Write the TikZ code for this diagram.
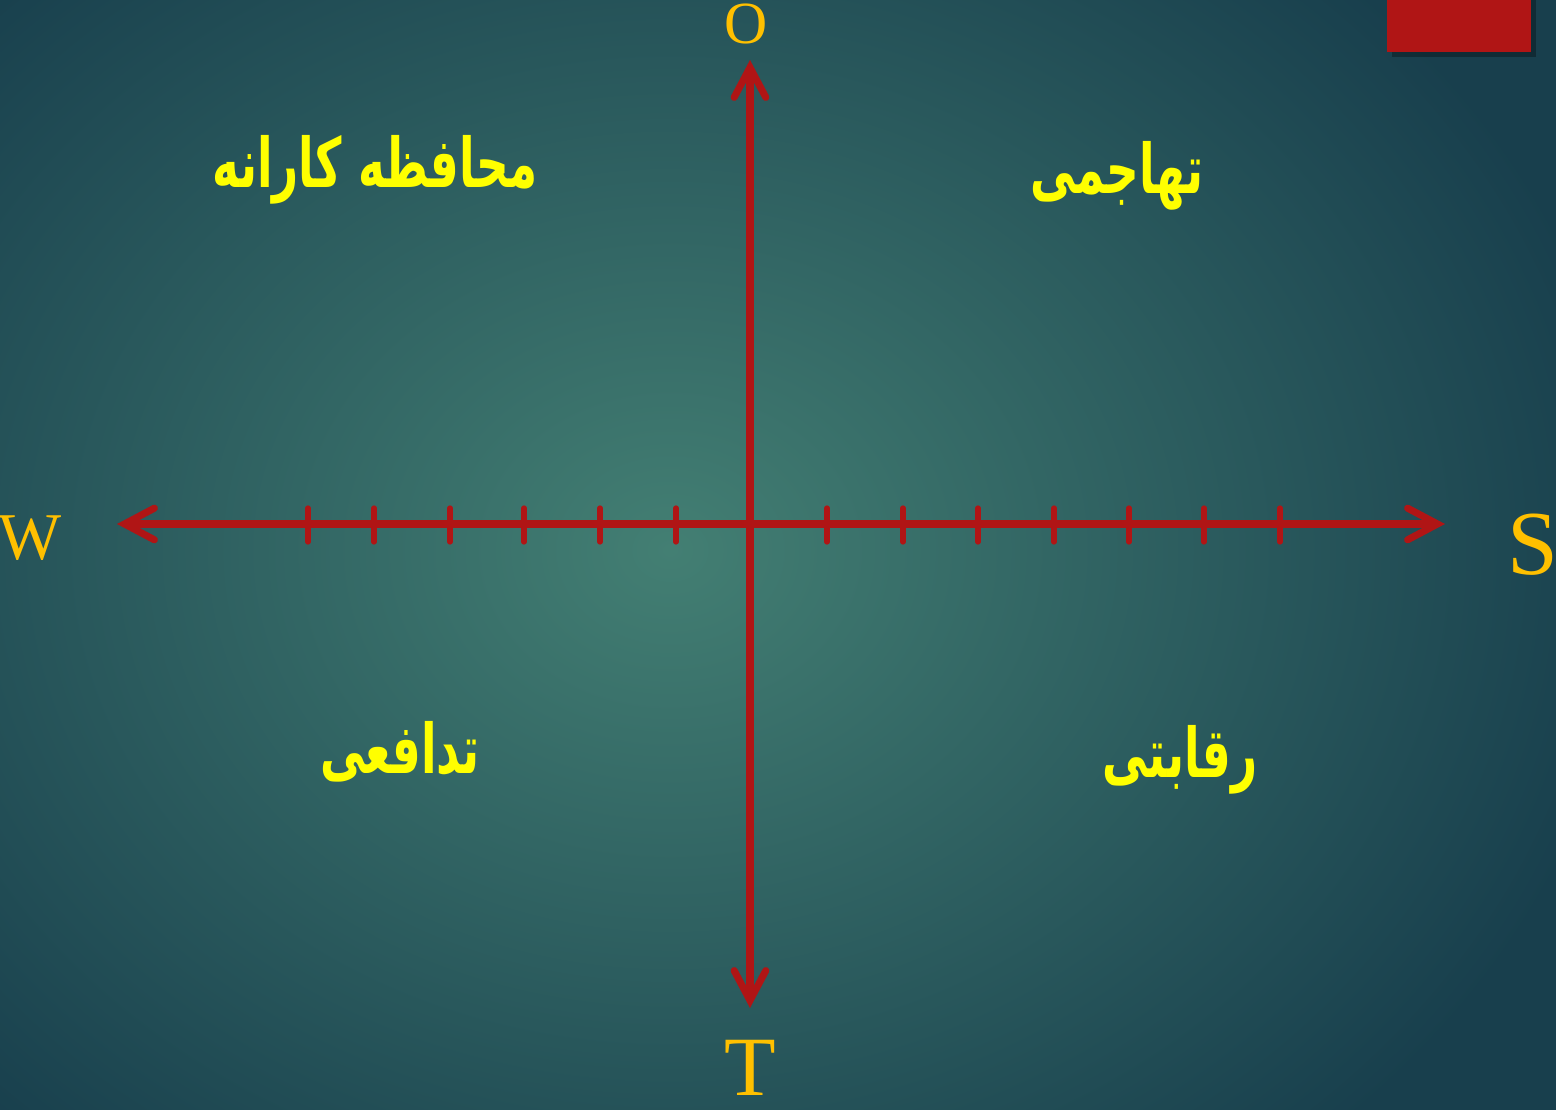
\documentclass[tikz,border=0pt]{standalone}
\usepackage{fontspec}
\setmainfont{Liberation Serif}
\newfontfamily\arabicfont[Script=Arabic]{DejaVu Sans}
\TeXXeTstate=1
\usetikzlibrary{arrows.meta, shadows}
\definecolor{bginner}{HTML}{437F73}
\definecolor{bgouter}{HTML}{183F4D}
\definecolor{axisred}{HTML}{B01515}
\definecolor{labelgold}{HTML}{FFC000}
\definecolor{quadyellow}{HTML}{FFFF00}

\begin{document}
\begin{tikzpicture}[x=0.01cm, y=-0.01cm,
    axisline/.style={draw=axisred, line width=2pt,
      {Straight Barb[length=8.5pt, width=9pt, line width=2pt, line cap=round]}-{Straight Barb[length=8.5pt, width=9pt, line width=2pt, line cap=round]}},
    tickmark/.style={draw=axisred, line width=1.5pt, line cap=round},
    axislabel/.style={text=labelgold, inner sep=0pt},
    quadtext/.style={text=quadyellow, inner sep=0pt, font=\arabicfont\bfseries\fontsize{15}{18}\selectfont}]
  % background
  \useasboundingbox (0,0) rectangle (1556,1110);
  \shade[inner color=bginner, outer color=bgouter] (-300,-250) rectangle (1640,1350);
  \fill[axisred, drop shadow={opacity=0.3, shadow xshift=1.5pt, shadow yshift=-1.5pt, fill=black}] (1387,-10) rectangle (1531,52);

  % axis ends
  \coordinate (wtip) at (117,524);
  \coordinate (stip) at (1445,524);
  \coordinate (otip) at (750,60);
  \coordinate (ttip) at (750,1008);

  \draw[axisline] (wtip) -- (stip);
  \draw[axisline] (ttip) -- (otip);

  \foreach \tx in {308,374,450,524,600,676,827,903,978,1054,1129,1204,1280}
    \draw[tickmark] (\tx,508) -- (\tx,542);

  % axis labels
  \node[axislabel, font=\fontsize{17}{20}\selectfont] (olabel) at (746,24) {O};
  \node[axislabel, font=\fontsize{19}{22}\selectfont] (wlabel) at (30,538) {W};
  \node[axislabel, font=\fontsize{26}{30}\selectfont] (slabel) at (1533,545) {S};
  \node[axislabel, font=\fontsize{24}{28}\selectfont] (tlabel) at (750,1068) {T};

  % quadrants
  \node[quadtext] (conservative) at (375,170) {\scalebox{0.86}[1.3]{\beginR محافظه کارانه\endR}};
  \node[quadtext] (aggressive) at (1117,176) {\scalebox{0.86}[1.3]{\beginR تهاجمی\endR}};
  \node[quadtext] (defensive) at (400,752) {\scalebox{0.86}[1.3]{\beginR تدافعی\endR}};
  \node[quadtext] (competitive) at (1180,760) {\scalebox{0.86}[1.3]{\beginR رقابتی\endR}};
\end{tikzpicture}
\end{document}
